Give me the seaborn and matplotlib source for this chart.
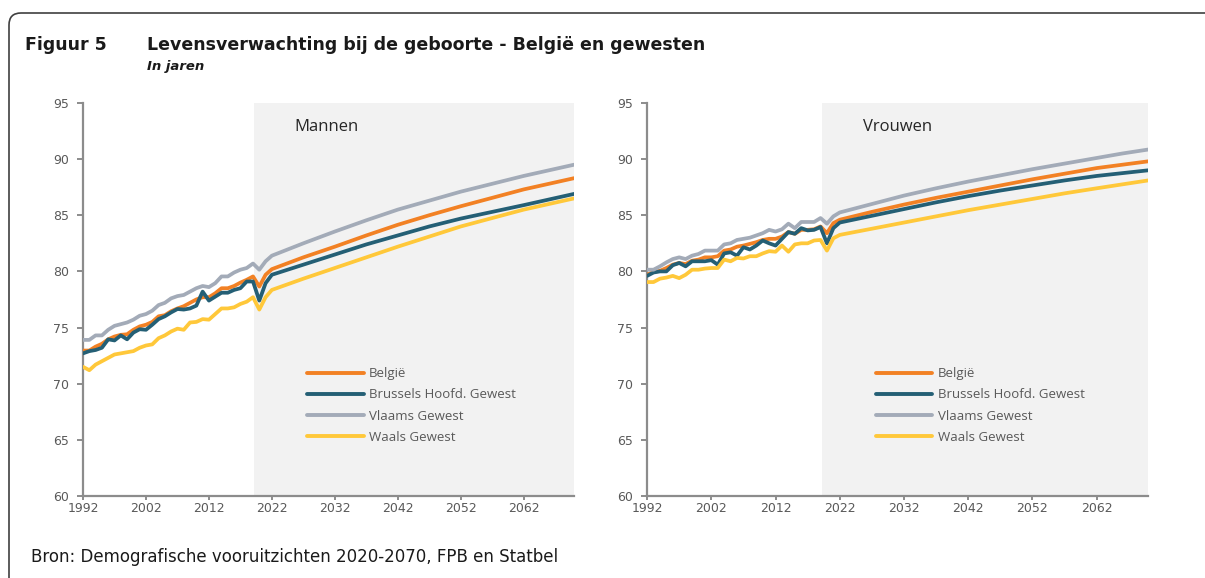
import pandas as pd
import numpy as np
import matplotlib.pyplot as plt
from matplotlib.patches import FancyBboxPatch
import seaborn as sns

jaren = list(range(1992, 2023)) + [2027, 2032, 2037, 2042, 2047, 2052, 2057, 2062, 2066, 2070]

regios = ["België", "Brussels Hoofd. Gewest", "Vlaams Gewest", "Waals Gewest"]

# Mannen
man_belgie = [72.95, 72.95, 73.3, 73.55, 73.95, 74.2, 74.35, 74.4, 74.8, 75.1, 75.25, 75.5, 76.0, 76.1,
              76.45, 76.7, 76.9, 77.2, 77.5, 77.7, 77.7, 78.05, 78.5, 78.5, 78.7, 79.0, 79.25, 79.55,
              78.65, 79.7, 80.2,
              81.25, 82.2, 83.2, 84.15, 85.0, 85.8, 86.55, 87.3, 87.8, 88.3]
man_brussel = [72.7, 72.9, 73.0, 73.2, 73.95, 73.85, 74.3, 73.95, 74.55, 74.85, 74.8, 75.25, 75.75, 76.0,
               76.35, 76.65, 76.6, 76.7, 76.95, 78.2, 77.4, 77.75, 78.1, 78.1, 78.35, 78.5, 79.1, 79.1,
               77.4, 78.95, 79.7,
               80.6, 81.5, 82.4, 83.2, 84.0, 84.7, 85.3, 85.9, 86.4, 86.9]
man_vlaams = [73.9, 73.9, 74.3, 74.3, 74.8, 75.15, 75.3, 75.45, 75.7, 76.05, 76.2, 76.5, 77.0, 77.2,
              77.6, 77.8, 77.9, 78.2, 78.5, 78.7, 78.6, 78.95, 79.55, 79.55, 79.9, 80.15, 80.3, 80.7,
              80.15, 80.9, 81.4,
              82.5, 83.55, 84.55, 85.5, 86.3, 87.1, 87.8, 88.5, 89.0, 89.5]
man_waals = [71.5, 71.2, 71.7, 72.0, 72.3, 72.6, 72.7, 72.8, 72.9, 73.2, 73.4, 73.5, 74.05, 74.3,
             74.65, 74.9, 74.8, 75.45, 75.5, 75.75, 75.7, 76.2, 76.7, 76.7, 76.8, 77.1, 77.3, 77.7,
             76.6, 77.7, 78.35,
             79.35, 80.3, 81.25, 82.2, 83.1, 84.0, 84.75, 85.5, 86.0, 86.5]

# Vrouwen
vrouw_belgie = [79.7, 79.95, 80.05, 80.3, 80.6, 80.75, 80.65, 80.95, 81.05, 81.25, 81.25, 81.35, 81.85,
                81.95, 82.2, 82.3, 82.45, 82.6, 82.8, 82.9, 82.9, 83.1, 83.5, 83.35, 83.7, 83.7, 83.75,
                84.0, 83.4, 84.3, 84.6,
                85.3, 85.95, 86.55, 87.1, 87.65, 88.2, 88.7, 89.2, 89.5, 89.8]
vrouw_brussel = [79.6, 79.9, 80.0, 80.0, 80.55, 80.75, 80.45, 80.9, 80.9, 80.9, 81.0, 80.6, 81.6, 81.7,
                 81.4, 82.15, 81.95, 82.3, 82.75, 82.5, 82.3, 82.9, 83.5, 83.35, 83.85, 83.65, 83.7,
                 83.95, 82.5, 83.85, 84.35,
                 84.95, 85.55, 86.15, 86.7, 87.2, 87.65, 88.1, 88.5, 88.75, 89.0]
vrouw_vlaams = [80.15, 80.15, 80.45, 80.8, 81.1, 81.25, 81.1, 81.4, 81.55, 81.85, 81.85, 81.85, 82.4,
                82.5, 82.8, 82.9, 83.0, 83.2, 83.4, 83.7, 83.55, 83.75, 84.25, 83.85, 84.4, 84.4, 84.4,
                84.75, 84.25, 84.9, 85.25,
                86.0, 86.75, 87.4, 88.0, 88.55, 89.1, 89.6, 90.1, 90.5, 90.85]
vrouw_waals = [79.05, 79.05, 79.35, 79.45, 79.6, 79.4, 79.7, 80.15, 80.15, 80.25, 80.3, 80.3, 81.05,
               80.9, 81.2, 81.15, 81.35, 81.35, 81.6, 81.8, 81.75, 82.3, 81.75, 82.4, 82.5, 82.5, 82.75,
               82.8, 81.85, 82.95, 83.25,
               83.8, 84.35, 84.9, 85.45, 85.95, 86.45, 86.95, 87.4, 87.75, 88.1]

x_ticks = [1992, 2002, 2012, 2022, 2032, 2042, 2052, 2062]
y_ticks = [60, 65, 70, 75, 80, 85, 90, 95]

kleuren = {"België": "#F28124", "Brussels Hoofd. Gewest": "#245F75",
           "Vlaams Gewest": "#A3ABB8", "Waals Gewest": "#FFC83A"}


def maak_df(reeksen):
    frames = []
    for regio, waarden in zip(regios, reeksen):
        frames.append(pd.DataFrame({"Jaar": jaren, "Waarde": waarden, "Regio": regio}))
    return pd.concat(frames, ignore_index=True)


df_man = maak_df([man_belgie, man_brussel, man_vlaams, man_waals])
df_vrouw = maak_df([vrouw_belgie, vrouw_brussel, vrouw_vlaams, vrouw_waals])

sns.set_theme(style="white")
plt.rcParams["font.family"] = ["DejaVu Sans"]

fig = plt.figure(figsize=(12.05, 5.78), dpi=100)
ax1 = fig.add_axes([0.0689, 0.1419, 0.4075, 0.680])
ax2 = fig.add_axes([0.537, 0.1419, 0.4158, 0.680])

grijs = "#8C8C8C"
tekst = "#595959"

for ax, df, label in [(ax1, df_man, "Mannen"), (ax2, df_vrouw, "Vrouwen")]:
    # projectieperiode
    ax.axvspan(2019.2, 2070, color="#F2F2F2", lw=0, zorder=0)
    sns.lineplot(data=df, x="Jaar", y="Waarde", hue="Regio", hue_order=regios,
                 palette=kleuren, linewidth=2.7, ax=ax, zorder=3)
    ax.set_xlim(1992, 2070)
    ax.set_ylim(60, 95)
    ax.set_xticks(x_ticks)
    ax.set_yticks(y_ticks)
    ax.set_xlabel("")
    ax.set_ylabel("")
    for s in ["top", "right"]:
        ax.spines[s].set_visible(False)
    for s in ["left", "bottom"]:
        ax.spines[s].set_color(grijs)
        ax.spines[s].set_linewidth(1.6)
    ax.tick_params(axis="y", direction="out", length=4, width=1.4, color=grijs,
                   pad=6, labelsize=9, labelcolor=tekst, left=True)
    ax.tick_params(axis="x", direction="out", length=3, width=1.4, color=grijs,
                   pad=1, labelsize=9, labelcolor=tekst, bottom=True)
    ax.text(0.43, 0.94, label, transform=ax.transAxes, fontsize=12,
            family="Open Sans", color="#262626", va="center", ha="left")
    leg = ax.legend(loc="center left", bbox_to_anchor=(0.456, 0.23), frameon=False,
                    borderpad=0, borderaxespad=0, handlelength=4.3, handletextpad=0.4,
                    labelspacing=0.62, prop={"family": "Open Sans", "size": 9.5})
    for t in leg.get_texts():
        t.set_color(tekst)
    for h in leg.get_lines():
        h.set_linewidth(2.8)

fig.text(0.021, 0.922, "Figuur 5", fontsize=12.5, fontweight="bold", color="#1A1A1A", va="center")
fig.text(0.122, 0.922, "Levensverwachting bij de geboorte - België en gewesten",
         fontsize=12.5, fontweight="bold", color="#1A1A1A", va="center")
fig.text(0.122, 0.885, "In jaren", fontsize=9.5, fontweight="bold", style="italic",
         color="#1A1A1A", va="center")
fig.text(0.026, 0.037, "Bron: Demografische vooruitzichten 2020-2070, FPB en Statbel",
         fontsize=12, color="#1A1A1A", va="center")

# afgeronde kader linksboven
kader = FancyBboxPatch((0.09, -1.0), 13.0, 6.65, boxstyle="round,pad=0,rounding_size=0.12",
                       transform=fig.dpi_scale_trans, fill=False, edgecolor="#404040", lw=1.2)
fig.patches.append(kader)

fig.savefig("out.png", dpi=100)
